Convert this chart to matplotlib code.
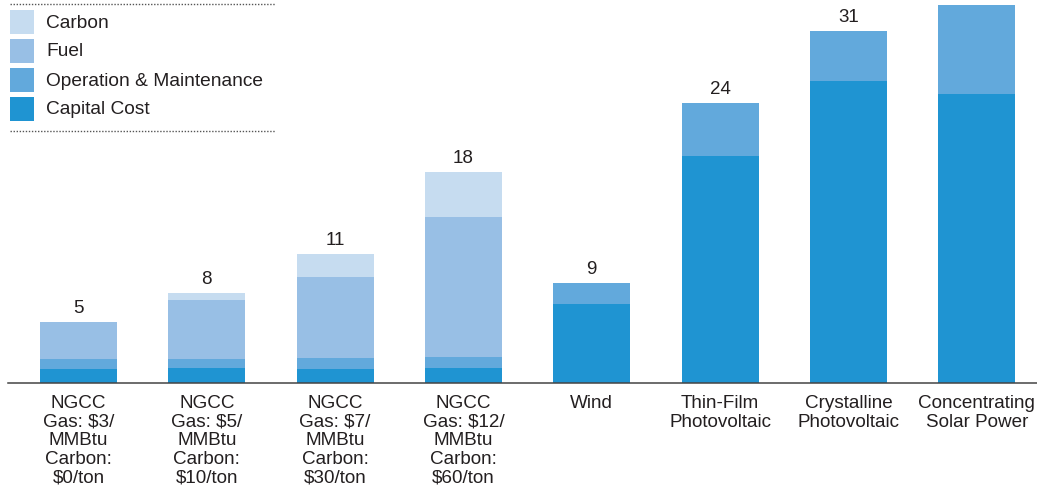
import matplotlib.pyplot as plt
from matplotlib.patches import Rectangle
import numpy as np

plt.rcParams['font.family'] = ['Liberation Sans', 'DejaVu Sans']

# Data
categories = ["NGCC\nGas: $3/\nMMBtu\nCarbon:\n$0/ton",
              "NGCC\nGas: $5/\nMMBtu\nCarbon:\n$10/ton",
              "NGCC\nGas: $7/\nMMBtu\nCarbon:\n$30/ton",
              "NGCC\nGas: $12/\nMMBtu\nCarbon:\n$60/ton",
              "Wind",
              "Thin-Film\nPhotovoltaic",
              "Crystalline\nPhotovoltaic",
              "Concentrating\nSolar Power"]
capital = [1.2, 1.28, 1.2, 1.28, 6.75, 19.4, 25.8, 24.7]
om = [0.85, 0.77, 0.94, 0.94, 1.8, 4.53, 4.27, 7.6]
fuel = [3.16, 5.04, 6.9, 11.97, 0, 0, 0, 0]
carbon = [0, 0.6, 1.97, 3.87, 0, 0, 0, 0]
totals_labels = ["5", "8", "11", "18", "9", "24", "31", None]

series_names = ["Capital Cost", "Operation & Maintenance", "Fuel", "Carbon"]
colors = ["#1f94d2", "#62a9dc", "#98bfe5", "#c6dcf0"]
text_color = "#231f20"

W, H = 1037, 489
fig = plt.figure(figsize=(W / 100, H / 100), dpi=100)
ax = fig.add_axes([8 / W, 105 / H, (W - 8) / W, 380 / H])

x = np.arange(len(categories))
bottom = np.zeros(len(categories))
for vals, c in zip([capital, om, fuel, carbon], colors):
    ax.bar(x, vals, width=0.6, bottom=bottom, color=c, linewidth=0)
    bottom += np.array(vals)

for i, lab in enumerate(totals_labels):
    if lab is None:
        continue
    ax.annotate(lab, (x[i], bottom[i]), xytext=(0, 4.5), textcoords='offset points',
                ha='center', va='bottom', fontsize=13.5, color=text_color)

ax.set_xlim(-0.55, 7.47)
ax.set_ylim(0, 32.5)
ax.set_xticks(x, categories)
ax.tick_params(axis='x', length=0, pad=8, labelsize=13.6, labelcolor=text_color)
for t in ax.get_xticklabels():
    t.set_linespacing(1.12)
ax.set_yticks([])
for s in ['top', 'right', 'left']:
    ax.spines[s].set_visible(False)
ax.spines['bottom'].set_color('#444444')
ax.spines['bottom'].set_linewidth(1.1)

# Legend drawn in pixel coordinates
lax = fig.add_axes([0, (H - 140) / H, 280 / W, 140 / H])
lax.set_xlim(0, 280)
lax.set_ylim(140, 0)
lax.axis('off')
lax.patch.set_alpha(0)
for yy in [5, 132]:
    lax.plot([10, 275], [yy, yy], color='#555555', lw=1, linestyle=(0, (1, 1.2)))
legend_order = ["Carbon", "Fuel", "Operation & Maintenance", "Capital Cost"]
for k, name in enumerate(legend_order):
    c = colors[series_names.index(name)]
    y0 = 11 + 29 * k
    lax.add_patch(Rectangle((10, y0), 24, 24, color=c, lw=0))
    lax.text(46, y0 + 12, name, fontsize=13.8, color=text_color, va='center', ha='left')

fig.savefig("out.png", dpi=100)
